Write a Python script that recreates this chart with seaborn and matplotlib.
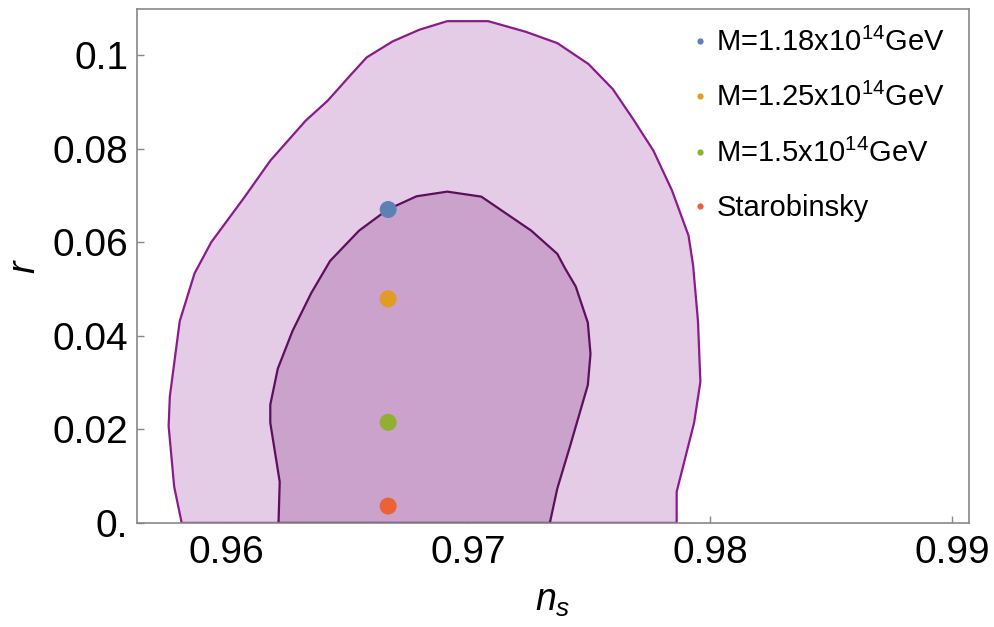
import numpy as np
import pandas as pd
import matplotlib
matplotlib.use("Agg")
import matplotlib.pyplot as plt
import seaborn as sns
from matplotlib.lines import Line2D

# outer (95%) contour
outer_ns = [0.95817, 0.95786, 0.95763, 0.95768, 0.95809, 0.95870, 0.95939, 0.96076,
            0.96183, 0.96329, 0.96420, 0.96512, 0.96581, 0.96688, 0.96798, 0.96914,
            0.97083, 0.97239, 0.97369, 0.97498, 0.97598, 0.97682, 0.97766, 0.97843,
            0.97911, 0.97930, 0.97950, 0.97960, 0.97934, 0.97862, 0.97862]
outer_r = [0.0, 0.00772, 0.02070, 0.02702, 0.04316, 0.05333, 0.06000, 0.06961,
           0.07744, 0.08598, 0.09025, 0.09559, 0.09950, 0.10292, 0.10541, 0.10726,
           0.10726, 0.10498, 0.10256, 0.09808, 0.09274, 0.08633, 0.07957, 0.07103,
           0.06142, 0.05500, 0.04316, 0.03018, 0.02140, 0.00667, 0.0]

# inner (68%) contour
inner_ns = [0.96217, 0.96222, 0.96183, 0.96183, 0.96214, 0.96275, 0.96352, 0.96430,
            0.96550, 0.96668, 0.96787, 0.96914, 0.97055, 0.97261, 0.97369, 0.97400,
            0.97445, 0.97495, 0.97506, 0.97495, 0.97422, 0.97369, 0.97338]
inner_r = [0.0, 0.00877, 0.02140, 0.02526, 0.03298, 0.04105, 0.04912, 0.05600,
           0.06249, 0.06700, 0.06982, 0.07082, 0.06975, 0.06249, 0.05751, 0.05450,
           0.05053, 0.04281, 0.03614, 0.02947, 0.01649, 0.00737, 0.0]

models = ["M=1.18x10$^{14}$GeV", "M=1.25x10$^{14}$GeV", "M=1.5x10$^{14}$GeV", "Starobinsky"]
model_ns = [0.9667, 0.9667, 0.9667, 0.9667]
model_r = [0.0670, 0.0479, 0.0215, 0.0036]
model_colors = ["#5e81b5", "#e19c24", "#8fb032", "#eb6235"]

sns.set_style("ticks")
plt.rcParams["font.family"] = ["Liberation Sans", "DejaVu Sans"]
plt.rcParams["mathtext.fontset"] = "custom"
plt.rcParams["mathtext.rm"] = "Liberation Sans"
plt.rcParams["mathtext.it"] = "Liberation Sans:italic"
plt.rcParams["text.color"] = "black"
plt.rcParams["axes.labelcolor"] = "black"

fig = plt.figure(figsize=(9.94, 6.27), dpi=100)
ax = fig.add_axes([0.1375, 0.1660, 0.8374, 0.8192])

ax.fill(outer_ns, outer_r, facecolor="#e5cce6", edgecolor="#8b1a8b", linewidth=1.6, zorder=1)
ax.fill(inner_ns, inner_r, facecolor="#caa2cb", edgecolor="#5c0f5c", linewidth=1.6, zorder=2)

df = pd.DataFrame({"ns": model_ns, "r": model_r, "model": models})
sns.scatterplot(data=df, x="ns", y="r", hue="model", palette=model_colors,
                s=150, linewidth=0, ax=ax, zorder=3, legend=False)

handles = [Line2D([], [], marker="o", linestyle="", markersize=4.5,
                  markerfacecolor=c, markeredgewidth=0) for c in model_colors]
ax.legend(handles, models, loc="upper left", bbox_to_anchor=(0.628, 1.015),
          frameon=False, fontsize=21, labelspacing=0.9, handletextpad=0.05,
          handlelength=1.0)

ax.set_xlim(0.95631, 0.9907)
ax.set_ylim(0, 0.1098)
ax.set_xticks([0.96, 0.97, 0.98, 0.99], ["0.96", "0.97", "0.98", "0.99"])
ax.set_yticks([0, 0.02, 0.04, 0.06, 0.08, 0.1], ["0.", "0.02", "0.04", "0.06", "0.08", "0.1"])
ax.tick_params(direction="in", length=5, width=1, color="#888888", labelsize=28,
               labelcolor="black")
ax.tick_params(axis="x", pad=9)
ax.tick_params(axis="y", pad=6)
for s in ax.spines.values():
    s.set_color("#888888")
    s.set_linewidth(1.2)

ax.set_xlabel("$n_s$", fontsize=27, labelpad=8)
ax.set_ylabel("$r$", fontsize=27)
ax.yaxis.set_label_coords(-0.112, 0.5)

plt.savefig("out.png", dpi=100)
